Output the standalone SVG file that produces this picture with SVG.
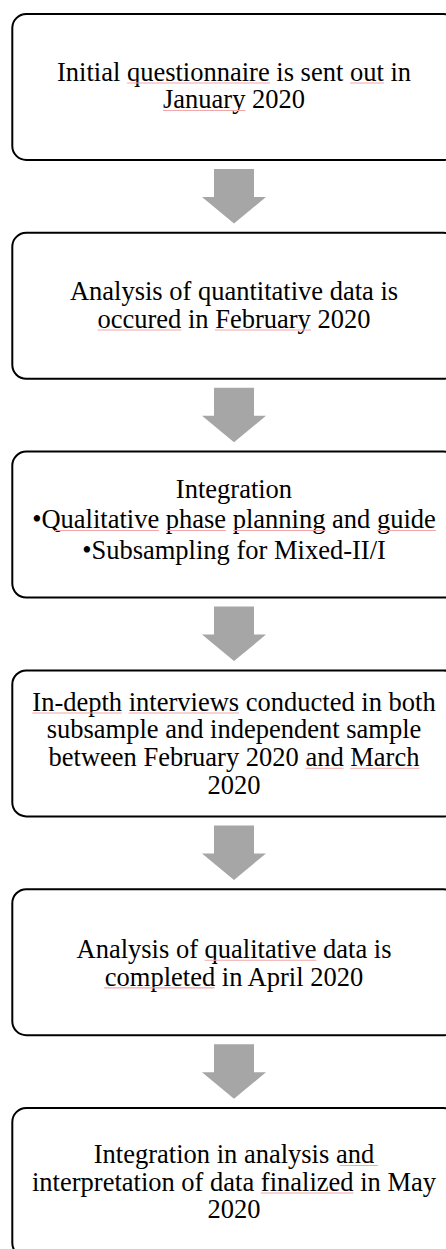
<svg xmlns="http://www.w3.org/2000/svg" width="446" height="1249" viewBox="0 0 446 1249">
<style>
.box{fill:#fff;stroke:#000;stroke-width:2}
.t{font-family:"Liberation Serif","Times New Roman",serif;font-size:26.5px;fill:#000;text-anchor:middle}
.arr{fill:#a6a6a6}
.sp{stroke:#f2a8a8;stroke-width:1.1;fill:none}
</style>
<rect x="0" y="0" width="446" height="1249" fill="#fff"/>
<g id="connectors">
<path class="arr" d="M214 169 H254 V197 H266 L234 223.5 L202 197 H214 Z"/>
<path class="arr" d="M214 387.8 H254 V415.8 H266 L234 442.3 L202 415.8 H214 Z"/>
<path class="arr" d="M214 606.6 H254 V634.6 H266 L234 661.1 L202 634.6 H214 Z"/>
<path class="arr" d="M214 825.4 H254 V853.4 H266 L234 879.9 L202 853.4 H214 Z"/>
<path class="arr" d="M214 1044.2 H254 V1072.2 H266 L234 1098.7 L202 1072.2 H214 Z"/>
</g>
<g id="node1">
<rect class="box" x="12.3" y="14" width="445" height="146" rx="14"/>
<text class="t" x="234" y="80.7">Initial questionnaire is sent out in</text>
<text class="t" x="234" y="108.3">January 2020</text>
</g>
<g id="node2">
<rect class="box" x="12.3" y="232.8" width="445" height="146" rx="14"/>
<text class="t" x="234" y="300.3">Analysis of quantitative data is</text>
<text class="t" x="234" y="327.9">occured in February 2020</text>
</g>
<g id="node3">
<rect class="box" x="12.3" y="451.6" width="445" height="146" rx="14"/>
<text class="t" x="234" y="498.3">Integration</text>
<text class="t" x="234" y="528.3">•Qualitative phase planning and guide</text>
<text class="t" x="234" y="559.3">•Subsampling for Mixed-II/I</text>
</g>
<g id="node4">
<rect class="box" x="12.3" y="670.4" width="445" height="146" rx="14"/>
<text class="t" x="234" y="710.7">In-depth interviews conducted in both</text>
<text class="t" x="234" y="738.4">subsample and independent sample</text>
<text class="t" x="234" y="766.1">between February 2020 and March</text>
<text class="t" x="234" y="793.8">2020</text>
</g>
<g id="node5">
<rect class="box" x="12.3" y="889.2" width="445" height="146" rx="14"/>
<text class="t" x="234" y="958.1">Analysis of qualitative data is</text>
<text class="t" x="234" y="985.7">completed in April 2020</text>
</g>
<g id="node6">
<rect class="box" x="12.3" y="1108" width="445" height="149" rx="14"/>
<text class="t" x="234" y="1163.3">Integration in analysis and</text>
<text class="t" x="234" y="1190.8">interpretation of data finalized in May</text>
<text class="t" x="234" y="1218.2">2020</text>
</g>
<g id="spellcheck">
<path class="sp" d="M127 83H270M350 83H384M163 110.5H245.5"/>
<path class="sp" d="M97.5 330H181.5M215 330H311"/>
<path class="sp" d="M55 530.5H159M166 530.5H226M233 530.5H325.5M377 530.5H436"/>
<path class="sp" d="M32.3 713H122M128.7 713H239M305.3 768.3H343.6M350.2 768.3H419.4"/>
<path class="sp" d="M204.6 960.3H316.5M104.1 987.9H214.5"/>
<path class="sp" d="M339.6 1165.5H378M260.9 1193H353.6"/>
</g>
</svg>
